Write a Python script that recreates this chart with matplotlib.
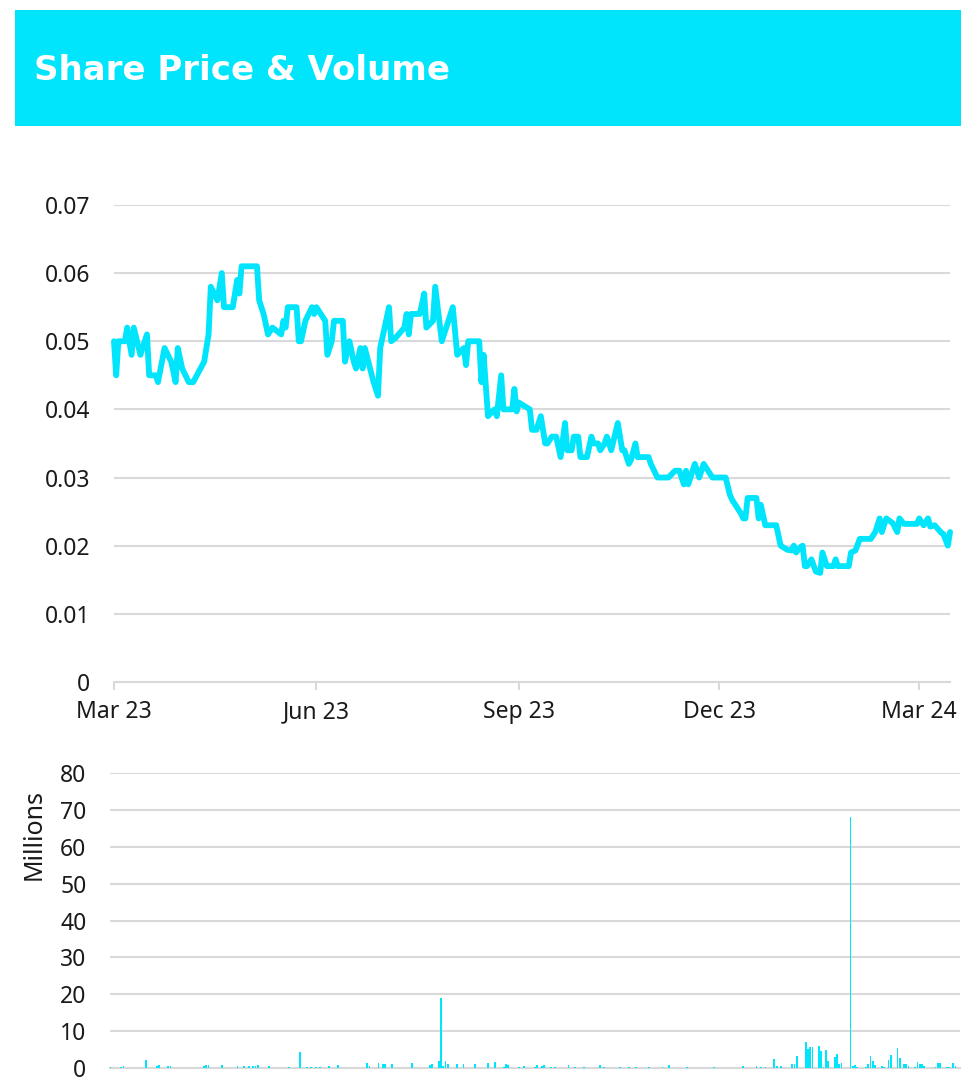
import matplotlib
matplotlib.use("Agg")
import matplotlib.pyplot as plt
import pandas as pd
from matplotlib.patches import Rectangle

plt.rcParams['font.family'] = ['Noto Sans', 'DejaVu Sans']

title = "Share Price & Volume"

price_dates = [
    "2023-03-01", "2023-03-02", "2023-03-03", "2023-03-06", "2023-03-07", "2023-03-09", "2023-03-10",
    "2023-03-13", "2023-03-16", "2023-03-17", "2023-03-20", "2023-03-21", "2023-03-24", "2023-03-27",
    "2023-03-29", "2023-03-30", "2023-04-01", "2023-04-04", "2023-04-06", "2023-04-11", "2023-04-12",
    "2023-04-13", "2023-04-14", "2023-04-17", "2023-04-19", "2023-04-20", "2023-04-24", "2023-04-25",
    "2023-04-26", "2023-04-27", "2023-04-28", "2023-05-05", "2023-05-06", "2023-05-08", "2023-05-10",
    "2023-05-12", "2023-05-16", "2023-05-17", "2023-05-18", "2023-05-19", "2023-05-23", "2023-05-24",
    "2023-05-25", "2023-05-27", "2023-05-30", "2023-05-31", "2023-06-01", "2023-06-03", "2023-06-05",
    "2023-06-06", "2023-06-08", "2023-06-09", "2023-06-13", "2023-06-14", "2023-06-16", "2023-06-18",
    "2023-06-19", "2023-06-21", "2023-06-22", "2023-06-23", "2023-06-27", "2023-06-29", "2023-06-30",
    "2023-07-04", "2023-07-05", "2023-07-07", "2023-07-11", "2023-07-12", "2023-07-13", "2023-07-14",
    "2023-07-18", "2023-07-20", "2023-07-21", "2023-07-24", "2023-07-25", "2023-07-28", "2023-07-30",
    "2023-08-02", "2023-08-04", "2023-08-07", "2023-08-08", "2023-08-09", "2023-08-14", "2023-08-15",
    "2023-08-16", "2023-08-18", "2023-08-20", "2023-08-21", "2023-08-22", "2023-08-24", "2023-08-25",
    "2023-08-29", "2023-08-30", "2023-08-31", "2023-09-01", "2023-09-04", "2023-09-06", "2023-09-07",
    "2023-09-09", "2023-09-11", "2023-09-13", "2023-09-14", "2023-09-16", "2023-09-18", "2023-09-20",
    "2023-09-22", "2023-09-23", "2023-09-25", "2023-09-26", "2023-09-28", "2023-09-29", "2023-10-02",
    "2023-10-04", "2023-10-05", "2023-10-07", "2023-10-08", "2023-10-10", "2023-10-11", "2023-10-13",
    "2023-10-16", "2023-10-18", "2023-10-19", "2023-10-21", "2023-10-22", "2023-10-24", "2023-10-25",
    "2023-10-30", "2023-10-31", "2023-11-03", "2023-11-08", "2023-11-11", "2023-11-13", "2023-11-15",
    "2023-11-16", "2023-11-17", "2023-11-20", "2023-11-22", "2023-11-24", "2023-11-28", "2023-12-04",
    "2023-12-06", "2023-12-07", "2023-12-09", "2023-12-11", "2023-12-12", "2023-12-13", "2023-12-14",
    "2023-12-18", "2023-12-19", "2023-12-20", "2023-12-22", "2023-12-26", "2023-12-27", "2023-12-29",
    "2024-01-01", "2024-01-03", "2024-01-04", "2024-01-05", "2024-01-07", "2024-01-08", "2024-01-09",
    "2024-01-10", "2024-01-12", "2024-01-14", "2024-01-16", "2024-01-17", "2024-01-19", "2024-01-22",
    "2024-01-23", "2024-01-24", "2024-01-29", "2024-01-30", "2024-02-01", "2024-02-03", "2024-02-08",
    "2024-02-10", "2024-02-12", "2024-02-13", "2024-02-15", "2024-02-18", "2024-02-20", "2024-02-21",
    "2024-02-23", "2024-02-29", "2024-03-01", "2024-03-03", "2024-03-05", "2024-03-06", "2024-03-08",
    "2024-03-11", "2024-03-12", "2024-03-14", "2024-03-15",
]
price_values = [
    0.050, 0.045, 0.050, 0.050, 0.052, 0.048, 0.052,
    0.048, 0.051, 0.045, 0.045, 0.044, 0.049, 0.047,
    0.044, 0.049, 0.046, 0.044, 0.044, 0.047, 0.049,
    0.051, 0.058, 0.056, 0.060, 0.055, 0.055, 0.057,
    0.059, 0.057, 0.061, 0.061, 0.056, 0.054, 0.051,
    0.052, 0.051, 0.053, 0.052, 0.055, 0.055, 0.050,
    0.050, 0.053, 0.055, 0.054, 0.055, 0.054, 0.053,
    0.048, 0.050, 0.053, 0.053, 0.047, 0.050, 0.047,
    0.046, 0.049, 0.046, 0.049, 0.044, 0.042, 0.049,
    0.055, 0.050, 0.0505, 0.052, 0.054, 0.051, 0.054,
    0.054, 0.057, 0.052, 0.053, 0.058, 0.050, 0.052,
    0.055, 0.048, 0.049, 0.0465, 0.050, 0.050, 0.044,
    0.048, 0.039, 0.0397, 0.040, 0.039, 0.045, 0.040,
    0.040, 0.043, 0.0397, 0.041, 0.0404, 0.040, 0.037,
    0.037, 0.039, 0.035, 0.035, 0.036, 0.036, 0.033,
    0.038, 0.034, 0.034, 0.036, 0.036, 0.033, 0.033,
    0.036, 0.035, 0.035, 0.034, 0.035, 0.036, 0.034,
    0.038, 0.034, 0.034, 0.032, 0.0326, 0.035, 0.033,
    0.033, 0.032, 0.030, 0.030, 0.031, 0.031, 0.029,
    0.031, 0.029, 0.032, 0.030, 0.032, 0.030, 0.030,
    0.0274, 0.0267, 0.0257, 0.0247, 0.024, 0.024, 0.027,
    0.027, 0.024, 0.026, 0.023, 0.023, 0.023, 0.020,
    0.0194, 0.0193, 0.020, 0.019, 0.0198, 0.020, 0.017,
    0.017, 0.018, 0.0162, 0.016, 0.019, 0.017, 0.017,
    0.018, 0.017, 0.017, 0.019, 0.0193, 0.021, 0.021,
    0.022, 0.024, 0.022, 0.024, 0.0233, 0.022, 0.024,
    0.0232, 0.0232, 0.024, 0.023, 0.024, 0.0228, 0.023,
    0.0219, 0.0217, 0.020, 0.022,
]

volume_dates = [
    "2023-03-01", "2023-03-06", "2023-03-07", "2023-03-17", "2023-03-22", "2023-03-23", "2023-03-27",
    "2023-03-28", "2023-04-12", "2023-04-13", "2023-04-14", "2023-04-20", "2023-04-27", "2023-04-30",
    "2023-05-02", "2023-05-04", "2023-05-05", "2023-05-06", "2023-05-11", "2023-05-20", "2023-05-25",
    "2023-05-28", "2023-05-30", "2023-06-01", "2023-06-03", "2023-06-07", "2023-06-11", "2023-06-24",
    "2023-06-25", "2023-06-29", "2023-07-01", "2023-07-02", "2023-07-05", "2023-07-14", "2023-07-22",
    "2023-07-23", "2023-07-26", "2023-07-27", "2023-07-28", "2023-07-29", "2023-07-30", "2023-08-03",
    "2023-08-06", "2023-08-11", "2023-08-17", "2023-08-20", "2023-08-24", "2023-08-25", "2023-08-26",
    "2023-08-31", "2023-09-02", "2023-09-07", "2023-09-08", "2023-09-10", "2023-09-11", "2023-09-14",
    "2023-09-16", "2023-09-22", "2023-09-25", "2023-09-29", "2023-10-06", "2023-10-08", "2023-10-15",
    "2023-10-19", "2023-10-22", "2023-10-28", "2023-11-03", "2023-11-06", "2023-11-14", "2023-11-26",
    "2023-12-09", "2023-12-15", "2023-12-17", "2023-12-19", "2023-12-23", "2023-12-24", "2023-12-26",
    "2023-12-31", "2024-01-01", "2024-01-02", "2024-01-06", "2024-01-07", "2024-01-08", "2024-01-09",
    "2024-01-12", "2024-01-13", "2024-01-14", "2024-01-15", "2024-01-16", "2024-01-19", "2024-01-20",
    "2024-01-21", "2024-01-22", "2024-01-26", "2024-01-27", "2024-01-28", "2024-01-29", "2024-02-02",
    "2024-02-03", "2024-02-04", "2024-02-05", "2024-02-06", "2024-02-09", "2024-02-10", "2024-02-12",
    "2024-02-13", "2024-02-16", "2024-02-17", "2024-02-19", "2024-02-20", "2024-02-21", "2024-02-24",
    "2024-02-25", "2024-02-26", "2024-02-27", "2024-02-28", "2024-03-04", "2024-03-05", "2024-03-06",
    "2024-03-09", "2024-03-10", "2024-03-12", "2024-03-13",
]
volume_millions = [
    0.3, 0.4, 0.5, 2.2, 0.6, 0.9, 0.5,
    0.6, 0.5, 0.9, 0.9, 0.8, 0.5, 0.5,
    0.6, 0.5, 0.6, 0.9, 0.5, 0.2, 4.4,
    0.4, 0.3, 0.4, 0.3, 0.5, 0.8, 1.4,
    0.6, 1.4, 1.2, 1.2, 1.1, 1.3, 0.7,
    1.2, 1.9, 19.0, 0.6, 1.8, 1.0, 1.2,
    1.2, 1.1, 1.3, 1.6, 0.4, 1.0, 0.8,
    0.4, 0.6, 0.3, 0.9, 0.5, 0.9, 0.3,
    0.4, 0.8, 0.3, 0.3, 0.7, 0.3, 0.3,
    0.3, 0.3, 0.4, 0.3, 0.8, 0.2, 0.2,
    0.6, 0.5, 0.3, 0.3, 2.4, 0.5, 0.5,
    1.1, 1.1, 3.3, 7.0, 5.2, 5.6, 5.8,
    6.1, 4.5, 0.3, 4.9, 2.0, 2.9, 3.8,
    1.1, 1.3, 68.0, 0.6, 0.8, 0.4, 0.4,
    1.1, 3.2, 1.8, 0.8, 0.5, 0.3, 2.3,
    3.5, 5.4, 2.7, 1.1, 1.0, 0.5, 0.3,
    1.5, 1.2, 1.1, 0.6, 0.4, 1.4, 1.3,
    0.3, 0.3, 1.3, 0.5,
]

price_yticks = [0, 0.01, 0.02, 0.03, 0.04, 0.05, 0.06, 0.07]
price_ytick_labels = ["0", "0.01", "0.02", "0.03", "0.04", "0.05", "0.06", "0.07"]
xtick_dates = ["2023-03-01", "2023-06-01", "2023-09-01", "2023-12-01", "2024-03-01"]
xtick_labels = ["Mar 23", "Jun 23", "Sep 23", "Dec 23", "Mar 24"]
volume_yticks = [0, 10, 20, 30, 40, 50, 60, 70, 80]
volume_ytick_labels = ["0", "10", "20", "30", "40", "50", "60", "70", "80"]

CYAN = "#00E5FC"
GRID = "#D9D9D9"
TEXT = "#1a1a1a"
FS = 16.5

pdates = pd.to_datetime(price_dates)
vdates = pd.to_datetime(volume_dates)
x0 = pdates[0]
x1 = pdates[-1]

fig = plt.figure(figsize=(9.61, 10.77), dpi=100)

# header band
fig.patches.append(Rectangle((0.0156, 0.883), 0.9844, 0.1077, transform=fig.transFigure,
                             facecolor=CYAN, edgecolor="none", zorder=0))
fig.text(0.0354, 0.935, title, color="white", fontsize=24.5, fontweight="bold",
         family=["DejaVu Sans"], va="center", ha="left")

# price axes
ax = fig.add_axes([0.1186, 0.3668, 0.8700, 0.4429])
ax.plot(pdates, price_values, color=CYAN, lw=4.2, solid_joinstyle="round",
        solid_capstyle="round", zorder=3, clip_on=False)
ax.set_xlim(x0, x1)
ax.set_ylim(0, 0.07)
ax.set_yticks(price_yticks)
ax.set_yticklabels(price_ytick_labels)
ax.set_xticks(pd.to_datetime(xtick_dates))
ax.set_xticklabels(xtick_labels)
ax.grid(axis="y", color=GRID, lw=1.5)
ax.set_axisbelow(True)
for s in ["top", "right", "left"]:
    ax.spines[s].set_visible(False)
ax.spines["bottom"].set_color(GRID)
ax.spines["bottom"].set_linewidth(1.5)
ax.tick_params(axis="y", length=0, pad=17, labelsize=FS, labelcolor=TEXT)
ax.tick_params(axis="x", length=6, width=1.5, color=GRID, pad=7, labelsize=FS, labelcolor=TEXT)

# volume axes
av = fig.add_axes([0.1145, 0.00836, 0.8845, 0.2739])
av.bar(vdates, volume_millions, width=0.8, color=CYAN, edgecolor="none", zorder=3)
av.set_xlim(x0, x1)
av.set_ylim(0, 80)
av.set_yticks(volume_yticks)
av.set_yticklabels(volume_ytick_labels)
av.set_xticks([])
av.grid(axis="y", color=GRID, lw=1.5)
av.set_axisbelow(True)
for s in ["top", "right", "left"]:
    av.spines[s].set_visible(False)
av.spines["bottom"].set_color(GRID)
av.spines["bottom"].set_linewidth(1.5)
av.tick_params(axis="y", length=0, pad=17, labelsize=FS, labelcolor=TEXT)
av.set_ylabel("Millions", fontsize=18, color=TEXT)
av.yaxis.set_label_coords(-0.075, 0.79)

fig.savefig("out.png", dpi=100)
